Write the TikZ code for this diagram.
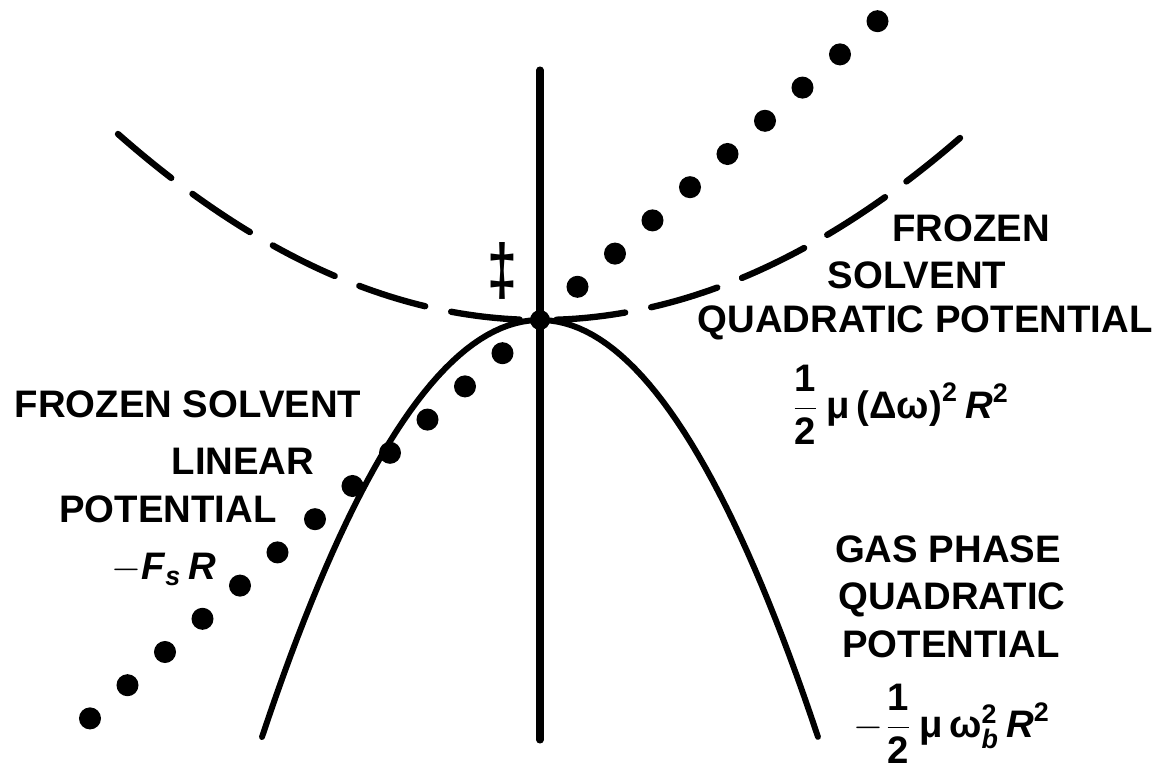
\documentclass[tikz,border=0pt]{standalone}
\usepackage{amsmath}
\usepackage{graphicx}
\usepackage{fontspec}
\setmainfont{Liberation Sans}
\usepackage{tikz}

\begin{document}
\begin{tikzpicture}[x=0.01cm, y=-0.01cm,
		curve/.style={line width=1.7pt, line cap=round},
		dashcurve/.style={line width=1.8pt, line cap=round, dash pattern=on 0.69cm off 0.265cm},
		lbl/.style={font=\fontsize{10.9}{13}\selectfont\bfseries, inner sep=0pt, anchor=base}]
		\useasboundingbox (0,0) rectangle (1169,767);
		\coordinate (ts) at (540,320);
		\coordinate (top) at (540,70);
		\coordinate (bot) at (540,740);

		\draw[curve, line width=2pt] (top) -- (bot);
		\draw[curve] plot[domain=-1:1, samples=80] ({540+278*\x},{320+417*\x*\x});
		\draw[dashcurve] plot[domain=-1:0, samples=60] ({540+422*\x},{320-186*\x*\x});
		\draw[dashcurve] plot[domain=1:0, samples=60] ({540+420*\x},{320-182*\x*\x});

		\foreach \i in {-12,...,9}{
			\ifnum\i=0\else\fill ({540+37.5*\i},{320-33.2*\i}) circle (0.11cm);\fi
		}
		\fill (ts) circle (0.1cm);

		\node[lbl, anchor=center, font=\fontsize{17}{20}\selectfont\bfseries] (dag) at (502,271) {\scalebox{0.9}[1.2]{‡}};

		\node[lbl] (rfz) at (971,242) {FROZEN};
		\node[lbl] (rsv) at (917,288) {SOLVENT};
		\node[lbl] (rqp) at (925,333) {QUADRATIC POTENTIAL};
		\node[lbl, anchor=center] (rfm) at (900,405) {$\dfrac{\text{1}}{\text{2}}\,\text{μ}\,\text{(Δω)}^{\text{2}}\,\textit{R}^{\text{2}}$};

		\node[lbl] (lfz) at (188,418) {FROZEN SOLVENT};
		\node[lbl] (lln) at (243,475) {LINEAR};
		\node[lbl] (lpt) at (168,522) {POTENTIAL};
		\node[lbl] (lfm) at (164,580) {$-\textit{F}_{\textit{s}}\,\textit{R}$};

		\node[lbl] (gas) at (948,562) {GAS PHASE};
		\node[lbl] (gqd) at (952,610) {QUADRATIC};
		\node[lbl] (gpt) at (951,657) {POTENTIAL};
		\node[lbl, anchor=center] (gfm) at (952,724) {$-\dfrac{\text{1}}{\text{2}}\,\text{μ}\,\text{ω}_{\textit{b}}^{\text{2}}\,\textit{R}^{\text{2}}$};
	\end{tikzpicture}
\end{document}
